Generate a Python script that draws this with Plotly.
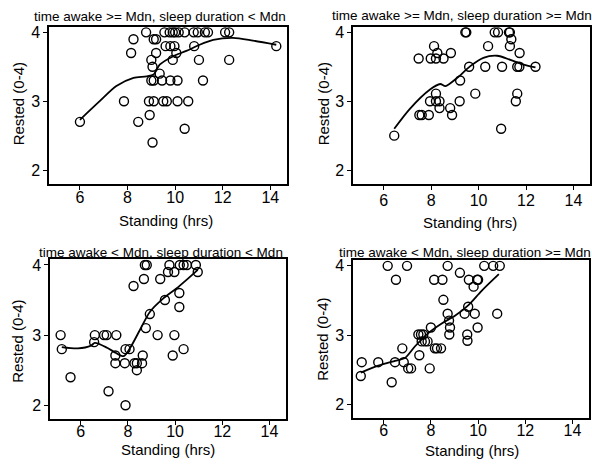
import plotly.graph_objects as go

# ---------------- data ----------------
titles = [
    "time awake >= Mdn, sleep duration < Mdn",
    "time awake >= Mdn, sleep duration >= Mdn",
    "time awake < Mdn, sleep duration < Mdn",
    "time awake < Mdn, sleep duration >= Mdn",
]

p1_x = [6.0, 7.85, 8.15, 8.25, 8.45, 8.78, 8.93, 8.9, 9.1, 9.0, 9.05, 9.1, 9.2, 9.2, 9.05,
        9.0, 9.1, 9.35, 9.45, 9.55, 9.77, 9.9, 10.0, 10.15, 9.6, 9.8, 9.97, 9.9, 10.05, 9.8,
        10.1, 9.5, 9.65, 10.1, 10.55, 10.4, 10.4, 10.78, 10.95, 11.25, 11.38, 10.8, 11.0,
        11.17, 12.1, 12.27, 12.27, 14.25]
p1_y = [2.7, 3.0, 3.7, 3.9, 2.7, 4.0, 2.8, 3.0, 3.0, 3.6, 3.5, 3.9, 3.9, 3.7, 2.4,
        3.3, 3.3, 3.4, 3.3, 4.0, 4.0, 4.0, 4.0, 4.0, 3.8, 3.8, 3.8, 3.6, 3.7, 3.3,
        3.3, 3.0, 3.0, 3.0, 3.0, 2.6, 4.0, 4.0, 4.0, 4.0, 4.0, 3.8, 3.6,
        3.3, 4.0, 4.0, 3.6, 3.8]
p1_fit_x = [6.0, 6.83, 7.53, 8.25, 8.8, 9.1, 9.35, 9.9, 10.47, 11.03, 11.6, 12.43, 13.27, 14.25]
p1_fit_y = [2.73, 3.0, 3.22, 3.34, 3.36, 3.39, 3.53, 3.65, 3.73, 3.82, 3.89, 3.92, 3.88, 3.82]

p2_x = [6.44, 7.47, 7.5, 7.6, 7.9, 7.98, 7.95, 8.12, 8.2, 8.26, 8.2, 8.2, 8.35, 8.35, 8.52,
        8.83, 8.8, 8.88, 9.22, 9.2, 9.44, 9.48, 9.6, 9.86, 10.28, 10.4, 10.68, 10.82, 10.99,
        10.95, 11.28, 11.32, 11.38, 11.32, 11.63, 11.72, 11.73, 11.63, 11.57, 12.4]
p2_y = [2.5, 3.62, 2.8, 2.8, 2.8, 3.62, 3.0, 3.8, 3.62, 3.7, 3.11, 3.0, 3.0, 2.9, 3.62,
        3.7, 2.9, 2.8, 3.3, 3.0, 4.0, 4.0, 3.5, 3.11, 3.5, 3.8, 4.0, 4.0, 3.5,
        2.6, 4.0, 4.0, 3.9, 3.8, 3.5, 3.5, 3.7, 3.11, 3.0, 3.5]
p2_fit_x = [6.44, 7.1, 7.95, 8.38, 8.6, 9.1, 9.65, 10.2, 10.78, 11.34, 11.9, 12.4]
p2_fit_y = [2.6, 2.89, 3.17, 3.25, 3.22, 3.34, 3.51, 3.63, 3.66, 3.6, 3.53, 3.49]

p3_x = [5.15, 5.2, 5.57, 6.57, 6.6, 6.99, 7.1, 7.18, 7.51, 7.47, 7.47, 7.87, 7.9, 8.07,
        7.9, 8.24, 8.28, 8.38, 8.38, 8.6, 8.63, 8.68, 8.72, 8.8, 8.76, 8.93, 9.26, 9.37,
        9.57, 9.7, 9.76, 9.97, 9.97, 9.9, 10.18, 10.18, 10.2, 10.36, 10.5, 10.36, 10.88, 10.96]
p3_y = [3.0, 2.8, 2.4, 2.9, 3.0, 3.0, 3.0, 2.2, 3.0, 2.71, 2.6, 2.6, 2.8, 2.8,
        2.0, 3.7, 2.6, 2.6, 2.5, 2.6, 2.71, 3.8, 4.0, 4.0, 3.1, 3.3, 3.0, 3.8,
        3.5, 3.9, 4.0, 3.9, 3.0, 2.71, 3.6, 3.4, 4.0, 4.0, 4.0, 2.8, 4.0, 3.9]
p3_fit_x = [5.2, 5.88, 6.44, 6.6, 7.12, 7.47, 7.82, 8.1, 8.52, 8.93, 9.49, 10.04, 10.46, 10.96]
p3_fit_y = [2.83, 2.81, 2.85, 2.89, 2.82, 2.75, 2.7, 2.82, 3.08, 3.33, 3.52, 3.66, 3.78, 3.93]

p4_x = [5.03, 5.07, 5.77, 6.17, 6.34, 6.48, 6.52, 6.79, 6.85, 6.99, 7.04, 7.16, 7.51, 7.47,
        7.58, 7.68, 7.61, 7.75, 7.86, 8.0, 7.95, 8.14, 8.17, 8.26, 8.43, 8.49, 8.53, 8.71,
        8.71, 8.77, 8.81, 8.78, 9.23, 9.43, 9.54, 9.55, 9.58, 9.61, 9.81, 9.86, 9.96, 10.0,
        9.98, 10.26, 10.64, 10.92, 10.81]
p4_y = [2.41, 2.61, 2.61, 4.0, 2.32, 2.61, 3.8, 2.81, 2.61, 4.0, 2.52, 2.52, 2.71, 3.01,
        3.01, 3.01, 2.91, 2.91, 2.91, 3.11, 2.52, 3.8, 2.81, 2.81, 2.81, 3.8, 3.51, 4.0,
        3.31, 3.21, 3.11, 3.01, 3.9, 3.31, 3.01, 2.92, 3.41, 3.8, 3.7, 3.31, 3.8, 3.8,
        3.11, 4.0, 4.0, 4.0, 3.31]
p4_fit_x = [5.03, 5.77, 6.48, 6.9, 7.33, 7.89, 8.46, 9.02, 9.58, 10.15, 10.88]
p4_fit_y = [2.46, 2.56, 2.63, 2.67, 2.84, 3.03, 3.17, 3.28, 3.43, 3.64, 3.88]

x_ticks = [6, 8, 10, 12, 14]
y_ticks = [2, 3, 4]
x_title = "Standing (hrs)"
y_title = "Rested (0-4)"

panels = [
    (p1_x, p1_y, p1_fit_x, p1_fit_y),
    (p2_x, p2_y, p2_fit_x, p2_fit_y),
    (p3_x, p3_y, p3_fit_x, p3_fit_y),
    (p4_x, p4_y, p4_fit_x, p4_fit_y),
]

# ---------------- layout ----------------
W, H = 592, 466
# frame boxes in pixels: (left, right, top, bottom)
boxes = [(49, 287, 24, 182), (353, 590, 24, 182), (50, 286, 258, 419), (353, 589, 259, 418)]
# title centres (x px, y px of text middle)
title_pos = [(160, 14), (462, 13), (161, 251), (465, 251)]
# x-axis title centres, y-axis title centres
xtitle_pos = [(166, 219), (470, 221), (168, 449), (472, 450)]
ytitle_pos = [(18, 102), (323, 102), (18, 341), (323, 339)]
xlabel_standoff = [-6, -3, -7, -7]

FONT = "Liberation Sans, Arial, sans-serif"
fig = go.Figure()
layout = dict(
    width=W, height=H, margin=dict(l=0, r=0, t=0, b=0),
    paper_bgcolor="white", plot_bgcolor="white", showlegend=False,
    font=dict(family=FONT, color="black", size=13),
)
annotations = []
for i, ((px, py, fx, fy), (l, r, t, b)) in enumerate(zip(panels, boxes)):
    n = i + 1
    xa = "x" if n == 1 else f"x{n}"
    ya = "y" if n == 1 else f"y{n}"
    fig.add_trace(go.Scatter(x=px, y=py, mode="markers", xaxis=xa, yaxis=ya,
                             marker=dict(symbol="circle-open", size=9, color="black",
                                         line=dict(width=1.4, color="black")),
                             hoverinfo="skip"))
    fig.add_trace(go.Scatter(x=fx, y=fy, mode="lines", xaxis=xa, yaxis=ya,
                             line=dict(color="black", width=1.8, shape="spline", smoothing=0.8),
                             hoverinfo="skip"))
    axkw = dict(showline=True, mirror=True, linecolor="black", linewidth=1.5,
                showgrid=False, zeroline=False, ticks="outside", ticklen=4,
                tickcolor="black", tickwidth=1.2,
                tickfont=dict(family=FONT, size=16, color="black"))
    layout["xaxis" + ("" if n == 1 else str(n))] = dict(
        domain=[l / W, r / W], anchor=ya, range=[4.7, 14.7],
        tickvals=x_ticks, ticktext=[str(v) for v in x_ticks],
        ticklabelstandoff=xlabel_standoff[i], **axkw)
    layout["yaxis" + ("" if n == 1 else str(n))] = dict(
        domain=[1 - b / H, 1 - t / H], anchor=xa, range=[1.8, 4.08],
        tickvals=y_ticks, ticktext=[str(v) for v in y_ticks], **axkw)
    tx, ty = title_pos[i]
    annotations.append(dict(text=titles[i], xref="paper", yref="paper",
                            x=tx / W, y=1 - ty / H, xanchor="center",
                            yanchor="middle", showarrow=False,
                            font=dict(family=FONT, size=13.5, color="black")))
    ax_, ay_ = xtitle_pos[i]
    annotations.append(dict(text=x_title, xref="paper", yref="paper",
                            x=ax_ / W, y=1 - ay_ / H, xanchor="center", yanchor="middle",
                            showarrow=False, font=dict(family=FONT, size=15, color="black")))
    bx_, by_ = ytitle_pos[i]
    annotations.append(dict(text=y_title, xref="paper", yref="paper", textangle=-90,
                            x=bx_ / W, y=1 - by_ / H, xanchor="center", yanchor="middle",
                            showarrow=False, font=dict(family=FONT, size=15, color="black")))

layout["annotations"] = annotations
fig.update_layout(**layout)
fig.write_html("out.html", config={"displayModeBar": False},
               post_script="document.body.style.margin='0';")
